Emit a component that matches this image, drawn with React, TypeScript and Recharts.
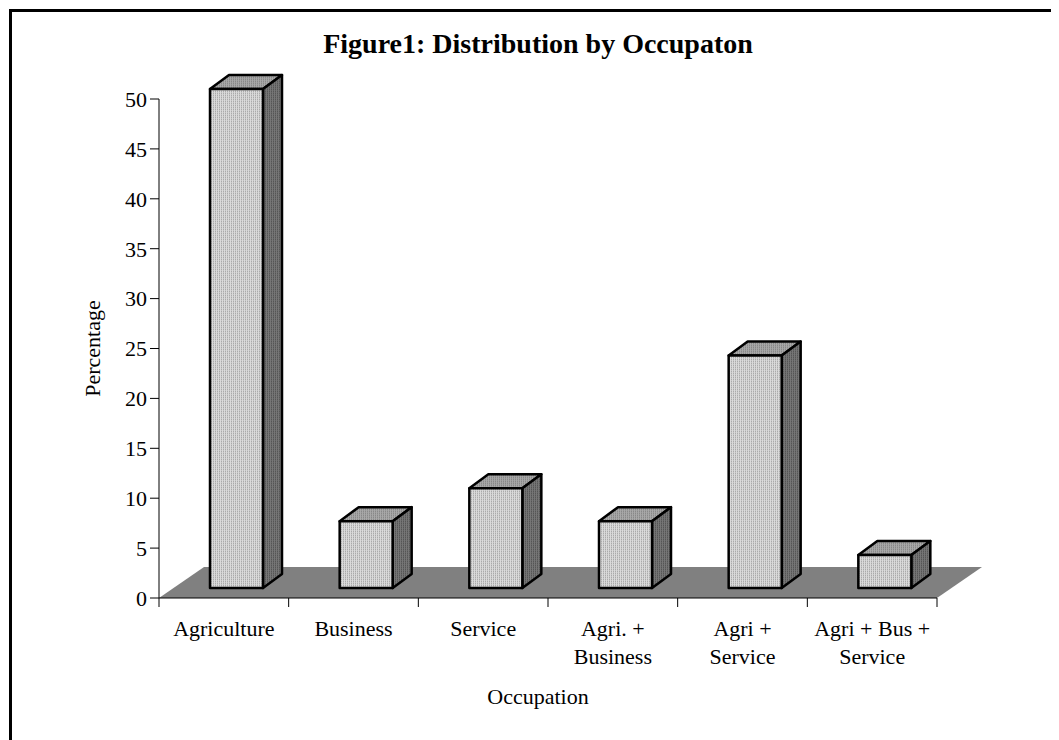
import { BarChart, Bar, XAxis, YAxis } from "recharts";

const CATEGORIES = [
  "Agriculture",
  "Business",
  "Service",
  "Agri. +\nBusiness",
  "Agri +\nService",
  "Agri + Bus +\nService",
];
const PERCENTAGES = [50, 6.7, 10, 6.7, 23.3, 3.3];
const Y_TICKS = [0, 5, 10, 15, 20, 25, 30, 35, 40, 45, 50];

const data = CATEGORIES.map((name, i) => ({ name, value: PERCENTAGES[i] }));

const FONT = "'Liberation Serif', 'Times New Roman', Times, serif";
const W = 1059;
const H = 740;
const MARGIN = { top: 99, right: 122, bottom: 42, left: 99 };
const Y_AXIS_W = 60;
const X_AXIS_H = 100;
const PLOT_LEFT = MARGIN.left + Y_AXIS_W;
const PLOT_RIGHT = W - MARGIN.right;
const BAND = (PLOT_RIGHT - PLOT_LEFT) / CATEGORIES.length;

// pseudo-3D offsets: floor depth, bar position on the floor, bar depth
const FLOOR_DX = 45;
const FLOOR_DY = -31;
const FRONT_DX = 13;
const FRONT_DY = -10;
const DEPTH_DX = 19;
const DEPTH_DY = -14;

function Patterns() {
  return (
    <defs>
      <pattern id="boxFront" width="2" height="2" patternUnits="userSpaceOnUse">
        <rect width="2" height="2" fill="#c6c6c6" />
        <rect width="1" height="2" fill="#dadada" />
        <rect x="1" y="1" width="1" height="1" fill="#aaaaaa" />
      </pattern>
      <pattern id="boxSide" width="2" height="2" patternUnits="userSpaceOnUse">
        <rect width="2" height="2" fill="#666" />
        <rect width="1" height="2" fill="#767676" />
        <rect x="1" y="1" width="1" height="1" fill="#555" />
      </pattern>
      <pattern id="boxTop" width="2" height="2" patternUnits="userSpaceOnUse">
        <rect width="2" height="2" fill="#999" />
        <rect width="1" height="2" fill="#a8a8a8" />
        <rect x="1" y="1" width="1" height="1" fill="#888" />
      </pattern>
    </defs>
  );
}

function BoxBar(props: any) {
  const { x, y, width, height, index } = props;
  const base = y + height;
  const fx = x + FRONT_DX;
  const top = y + FRONT_DY;
  const bottom = base + FRONT_DY;
  const right = fx + width;
  const stroke = { stroke: "#000", strokeWidth: 2.5, strokeLinejoin: "round" as const };
  return (
    <g>
      {index === 0 && (
        <>
          <Patterns />
          {/* floor under all the boxes */}
          <polygon
            points={`${PLOT_LEFT},${base} ${PLOT_RIGHT},${base} ${PLOT_RIGHT + FLOOR_DX},${base + FLOOR_DY} ${PLOT_LEFT + FLOOR_DX},${base + FLOOR_DY}`}
            fill="#808080"
          />
        </>
      )}
      <polygon
        points={`${fx},${top} ${fx + DEPTH_DX},${top + DEPTH_DY} ${right + DEPTH_DX},${top + DEPTH_DY} ${right},${top}`}
        fill="url(#boxTop)"
        {...stroke}
      />
      <polygon
        points={`${right},${top} ${right + DEPTH_DX},${top + DEPTH_DY} ${right + DEPTH_DX},${bottom + DEPTH_DY} ${right},${bottom}`}
        fill="url(#boxSide)"
        {...stroke}
      />
      <rect x={fx} y={top} width={width} height={height} fill="url(#boxFront)" {...stroke} />
    </g>
  );
}

function CategoryTick(props: any) {
  const { x, y, payload } = props;
  const idx = payload?.index ?? props.index;
  const lines = String(payload.value).split("\n");
  const left = x - BAND / 2;
  return (
    <g>
      <line x1={left} y1={y} x2={left} y2={y + 9} stroke="#000" />
      {idx === CATEGORIES.length - 1 && (
        <line x1={x + BAND / 2} y1={y} x2={x + BAND / 2} y2={y + 9} stroke="#000" />
      )}
      <text x={x} y={y + 38} textAnchor="middle" fontSize={22} fontFamily={FONT} fill="#000">
        {lines.map((line, i) => (
          <tspan key={i} x={x} dy={i === 0 ? 0 : 28}>
            {line}
          </tspan>
        ))}
      </text>
    </g>
  );
}

export default function App() {
  return (
    <div style={{ position: "relative", width: W - 8, height: H - 8, overflow: "hidden" }}>
      <div
        style={{
          position: "absolute",
          left: 1,
          top: 1,
          width: 1200,
          height: 900,
          border: "3px solid #000",
        }}
      />
      <div
        style={{
          position: "absolute",
          left: 538 - 8 - 400,
          top: 22,
          width: 800,
          textAlign: "center",
          fontFamily: FONT,
          fontWeight: "bold",
          fontSize: 28,
          lineHeight: "28px",
          color: "#000",
        }}
      >
        Figure1: Distribution by Occupaton
      </div>
      <div style={{ position: "absolute", left: -8, top: -8 }}>
        <BarChart width={W} height={H} data={data} margin={MARGIN}>
          <XAxis
            dataKey="name"
            type="category"
            interval={0}
            height={X_AXIS_H}
            tickLine={false}
            tickSize={0}
            tickMargin={0}
            axisLine={{ stroke: "#000" }}
            tick={<CategoryTick />}
            label={(p: any) => {
              const vb = p.viewBox;
              return (
                <text
                  x={vb.x + vb.width / 2 - 10}
                  y={vb.y + 106}
                  textAnchor="middle"
                  fontSize={22}
                  fontFamily={FONT}
                  fill="#000"
                >
                  Occupation
                </text>
              );
            }}
          />
          <YAxis
            type="number"
            domain={[0, 50]}
            ticks={Y_TICKS}
            interval={0}
            width={Y_AXIS_W}
            tickSize={9}
            tickMargin={3}
            axisLine={{ stroke: "#000" }}
            tickLine={{ stroke: "#000" }}
            tick={{ fill: "#000", fontSize: 22, fontFamily: FONT }}
            label={(p: any) => {
              const vb = p.viewBox;
              const lx = vb.x + 1;
              const ly = vb.y + vb.height / 2;
              return (
                <text
                  x={lx}
                  y={ly}
                  transform={`rotate(-90, ${lx}, ${ly})`}
                  textAnchor="middle"
                  fontSize={22}
                  fontFamily={FONT}
                  fill="#000"
                >
                  Percentage
                </text>
              );
            }}
          />
          <Bar dataKey="value" barSize={53} shape={<BoxBar />} isAnimationActive={false} />
        </BarChart>
      </div>
    </div>
  );
}
